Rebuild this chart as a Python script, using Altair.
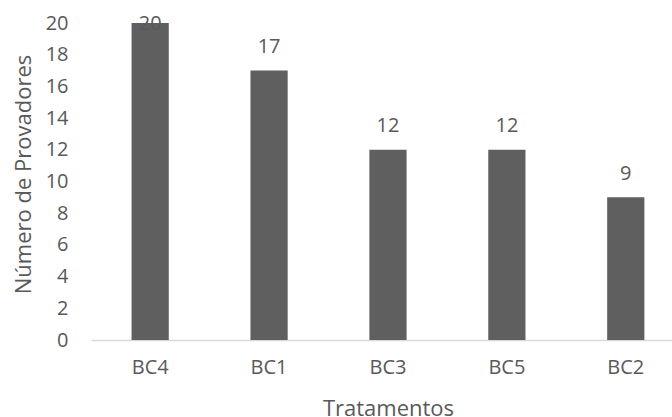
import altair as alt
import pandas as pd

# Number of tasters who chose each treatment
tratamentos = ["BC4", "BC1", "BC3", "BC5", "BC2"]
provadores = [20, 17, 12, 12, 9]
y_ticks = [0, 2, 4, 6, 8, 10, 12, 14, 16, 18, 20]

df = pd.DataFrame({"tratamento": tratamentos, "provadores": provadores})

FONT = "Open Sans"
TEXT = "#595959"
BAR = "#5f5f5f"

x_enc = alt.X(
    "tratamento:N",
    sort=tratamentos,
    scale=alt.Scale(paddingInner=0.687, paddingOuter=0.2867, align=0.595),
    axis=alt.Axis(
        title="Tratamentos",
        labelAngle=0,
        labelFontSize=20,
        labelColor=TEXT,
        labelFont=FONT,
        labelPadding=17,
        ticks=False,
        domainColor="#d9d9d9",
        domainWidth=1.5,
        titleFont=FONT,
        titleFontSize=22,
        titleFontWeight="normal",
        titleColor=TEXT,
        titleX=297,
        titleY=75,
        titleBaseline="alphabetic",
        titleAlign="center",
    ),
)

y_enc = alt.Y(
    "provadores:Q",
    scale=alt.Scale(domain=[0, 20], nice=False),
    axis=alt.Axis(
        title="Número de Provadores",
        values=y_ticks,
        grid=False,
        domain=False,
        ticks=False,
        labelFontSize=20,
        labelColor=TEXT,
        labelFont=FONT,
        labelPadding=23,
        titleFont=FONT,
        titleFontSize=22,
        titleFontWeight="normal",
        titleColor=TEXT,
        titleAngle=-90,
        titleX=-61,
        titleY=151,
        titleAlign="center",
        titleBaseline="alphabetic",
    ),
)

base = alt.Chart(df).encode(x=x_enc, y=y_enc)

bars = base.mark_bar(color=BAR)

# Value labels: above each bar, tucked under the top edge for the tallest one
labels = base.transform_joinaggregate(
    maximo="max(provadores)"
).transform_filter(
    "datum.provadores < datum.maximo"
).mark_text(
    font=FONT, fontSize=20, color=TEXT, baseline="alphabetic", dy=-17.5
).encode(text="provadores:Q")

label_top = base.transform_joinaggregate(
    maximo="max(provadores)"
).transform_filter(
    "datum.provadores == datum.maximo"
).mark_text(
    font=FONT, fontSize=20, color=TEXT, baseline="alphabetic", dy=6.7
).encode(text="provadores:Q")

chart = (
    alt.layer(bars, labels, label_top)
    .properties(
        width=581,
        height=317,
        autosize=alt.AutoSizeParams(type="none"),
        padding={"left": 91, "top": 23, "right": 0, "bottom": 77},
        background="white",
    )
    .configure_view(stroke=None)
)

chart.save("out.html", embed_options={"renderer": "svg", "actions": False})
